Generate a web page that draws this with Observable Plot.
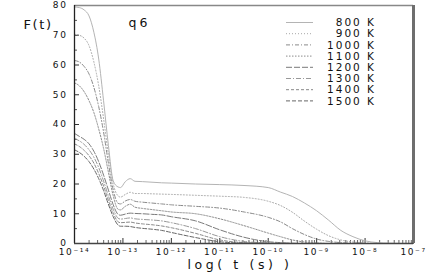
<!DOCTYPE html>
<html><head><meta charset="utf-8">
<script src="https://cdn.jsdelivr.net/npm/d3@7"></script>
<script src="https://cdn.jsdelivr.net/npm/@observablehq/plot@0.6"></script>
<style>
html,body{margin:0;padding:0;background:#fff;}
#chart{position:relative;width:436px;height:273px;overflow:hidden;}
#legend{position:absolute;left:0;top:0;}
</style></head><body><div id="chart"></div>
<script>
// log10 of time in seconds
const logT = [-14, -13.9, -13.8, -13.7, -13.6, -13.5, -13.4, -13.3, -13.2, -13.1, -13.05, -12.95, -12.85, -12.75, -12.6, -12.4, -12.2, -12.0, -11.5, -11.0, -10.5, -10.0, -9.75, -9.5, -9.25, -9.0, -8.75, -8.5, -8.25, -8.0, -7.75, -7.5, -7.0];
const f800  = [79.5, 79.3, 78.5, 76.5, 71, 62, 48, 33, 21, 19.0, 18.8, 20.8, 21.8, 20.9, 20.8, 20.6, 20.4, 20.3, 20.0, 19.8, 19.5, 18.8, 17.3, 15.8, 13.6, 11, 7.8, 4.4, 2.3, 0.9, 0.3, 0.1, 0];
const f900  = [70.3, 70, 69, 66.5, 61, 53, 42, 30, 20, 16, 15.6, 16.5, 17.2, 16.8, 16.8, 16.7, 16.6, 16.5, 16.2, 15.9, 15.5, 14.2, 12.8, 10.5, 7.5, 4.8, 2.6, 1.2, 0.5, 0.2, 0, 0, 0];
const f1000 = [61.5, 61, 59.5, 57, 52.5, 46, 37.5, 27, 18, 13.5, 13.3, 14.3, 14.8, 14.2, 13.9, 13.6, 13.3, 13.0, 12.5, 11.9, 10.6, 8.8, 7.3, 5.0, 3.0, 1.5, 0.7, 0.3, 0.1, 0, 0, 0, 0];
const f1100 = [54, 53, 51, 48, 44, 38.5, 32, 24, 16, 11.5, 11.3, 12.5, 13.2, 12.2, 11.8, 11.4, 11, 10.6, 10.0, 8.3, 6.0, 3.5, 2.3, 1.2, 0.5, 0.2, 0, 0, 0, 0, 0, 0, 0];
const f1200 = [37, 36, 35, 33.5, 31, 27.5, 23, 18, 13, 9.8, 9.5, 9.9, 10.2, 10.1, 10.0, 9.8, 9.6, 9.0, 7.6, 4.6, 2.1, 0.6, 0.3, 0.1, 0, 0, 0, 0, 0, 0, 0, 0, 0];
const f1300 = [35.3, 34.5, 33.3, 31.5, 29, 25.5, 21, 16, 11.5, 8.5, 8.2, 8.4, 8.6, 8.3, 8.1, 7.9, 7.6, 7.0, 5.0, 2.3, 0.7, 0.2, 0, 0, 0, 0, 0, 0, 0, 0, 0, 0, 0];
const f1400 = [33.5, 32.6, 31.3, 29.5, 27, 23.5, 19.3, 14.5, 10.2, 7.3, 7.0, 7.1, 7.2, 6.9, 6.6, 6.3, 5.9, 5.3, 3.4, 1.2, 0.3, 0.1, 0, 0, 0, 0, 0, 0, 0, 0, 0, 0, 0];
const f1500 = [31.5, 30.6, 29.3, 27.5, 25, 21.8, 17.8, 13.2, 9, 6.2, 5.8, 5.8, 5.7, 5.4, 5.1, 4.8, 4.4, 3.7, 2.0, 0.6, 0.1, 0, 0, 0, 0, 0, 0, 0, 0, 0, 0, 0, 0];
const temps = ["800 K", "900 K", "1000 K", "1100 K", "1200 K", "1300 K", "1400 K", "1500 K"];
const yTicks = [0, 10, 20, 30, 40, 50, 60, 70, 80];
const yMinor = [5, 15, 25, 35, 45, 55, 65, 75];
const xExps = [-14, -13, -12, -11, -10, -9, -8, -7];
const minorMult = [2, 3, 4, 5, 6, 7, 8, 9];
const yTitle = "F(t)", panelTitle = "q6", xTitle = "log( t (s) )";

const seriesVals = [f800, f900, f1000, f1100, f1200, f1300, f1400, f1500];
const styles = [
  {stroke: "#b4b4b4", dash: null},
  {stroke: "#a8a8a8", dash: "1,2"},
  {stroke: "#8a8a8a", dash: "4,2,1,2"},
  {stroke: "#8c8c8c", dash: "1.5,1.5"},
  {stroke: "#7a7a7a", dash: "6,2"},
  {stroke: "#999999", dash: "5,2,1,2"},
  {stroke: "#888888", dash: "3,2"},
  {stroke: "#666666", dash: "4,2"}
];

const xTicks = xExps.map(e => Math.pow(10, e));
const xMinor = xExps.slice(0, -1).flatMap(e => minorMult.map(m => m * Math.pow(10, e)));
const sup = {"-": "\u207B", "0": "\u2070", "1": "\u00B9", "2": "\u00B2", "3": "\u00B3", "4": "\u2074", "5": "\u2075", "6": "\u2076", "7": "\u2077", "8": "\u2078", "9": "\u2079"};
const fmtX = t => "10" + String(Math.round(Math.log10(t))).split("").map(c => sup[c]).join("");

const W = 436, H = 273, ML = 74, MR = 23, MT = 5, MB = 30;
const plotW = W - ML - MR, plotH = H - MT - MB;

const lineMarks = seriesVals.map((vals, i) => Plot.line(
  logT.map((lt, j) => ({t: Math.pow(10, lt), f: vals[j]})),
  {x: "t", y: "f", stroke: styles[i].stroke, strokeWidth: 1, strokeDasharray: styles[i].dash, curve: "monotone-x"}
));

const chart = Plot.plot({
  width: W, height: H,
  marginLeft: ML, marginRight: MR, marginTop: MT, marginBottom: MB,
  style: {fontFamily: "DejaVu Sans, sans-serif", background: "#fff"},
  x: {type: "log", domain: [1e-14, 1e-7], ticks: xTicks, tickFormat: fmtX, tickSize: 0, tickPadding: 5, label: null},
  y: {domain: [0, 80], ticks: yTicks, tickSize: 0, tickPadding: 7, label: null},
  marks: [
    Plot.tickY(yTicks, {y: d => d, insetRight: plotW - 5, stroke: "#333", strokeWidth: 1}),
    Plot.tickY(yMinor, {y: d => d, insetRight: plotW - 3, stroke: "#555", strokeWidth: 1}),
    Plot.tickX(xTicks, {x: d => d, insetTop: plotH - 5, stroke: "#333", strokeWidth: 1}),
    Plot.tickX(xMinor, {x: d => d, insetTop: plotH - 3, stroke: "#666", strokeWidth: 1}),
    ...lineMarks,
    Plot.ruleY([80], {stroke: "#888", strokeWidth: 1.5}),
    Plot.ruleX([1e-7], {stroke: "#6e6e6e", strokeWidth: 3}),
    Plot.ruleX([1e-14], {stroke: "#222", strokeWidth: 1.3}),
    Plot.ruleY([0], {stroke: "#444", strokeWidth: 1.6}),
    Plot.text([yTitle], {frameAnchor: "top-left", dx: -51, dy: 14, fontSize: 13, fill: "#111"}),
    Plot.text([panelTitle], {frameAnchor: "top-left", dx: 54, dy: 13, fontSize: 12.5, fill: "#111"}),
    Plot.text([xTitle], {frameAnchor: "bottom", dx: -4, dy: 21.5, lineAnchor: "middle", fontSize: 12.5, fill: "#111"})
  ]
});
chart.querySelectorAll("[aria-label='x-axis tick label'] text, [aria-label='y-axis tick label'] text").forEach(t => {
  t.setAttribute("font-size", "9"); t.style.letterSpacing = "1.6px"; t.setAttribute("fill", "#111");
});
const spacing = {[yTitle]: "1.6px", [panelTitle]: "3px", [xTitle]: "3.6px"};
chart.querySelectorAll("text").forEach(t => {
  if (spacing[t.textContent] && !t.closest("[aria-label$='tick label']")) t.style.letterSpacing = spacing[t.textContent];
});
document.getElementById("chart").appendChild(chart);

// legend overlay
const ns = "http://www.w3.org/2000/svg";
const leg = document.createElementNS(ns, "svg");
leg.setAttribute("id", "legend"); leg.setAttribute("width", W); leg.setAttribute("height", H);
temps.forEach((lab, i) => {
  const y = 22.5 + i * 11.2;
  const l = document.createElementNS(ns, "line");
  l.setAttribute("x1", 286); l.setAttribute("x2", 313); l.setAttribute("y1", y); l.setAttribute("y2", y);
  l.setAttribute("stroke", styles[i].stroke); l.setAttribute("stroke-width", 1);
  if (styles[i].dash) l.setAttribute("stroke-dasharray", styles[i].dash);
  leg.appendChild(l);
  const tx = document.createElementNS(ns, "text");
  tx.setAttribute("x", 376); tx.setAttribute("y", y); tx.setAttribute("dy", "0.35em");
  tx.setAttribute("text-anchor", "end"); tx.setAttribute("font-family", "DejaVu Sans, sans-serif");
  tx.setAttribute("font-size", 10.5); tx.setAttribute("fill", "#111"); tx.style.letterSpacing = "2px";
  tx.textContent = lab;
  leg.appendChild(tx);
});
document.getElementById("chart").appendChild(leg);
</script></body></html>
